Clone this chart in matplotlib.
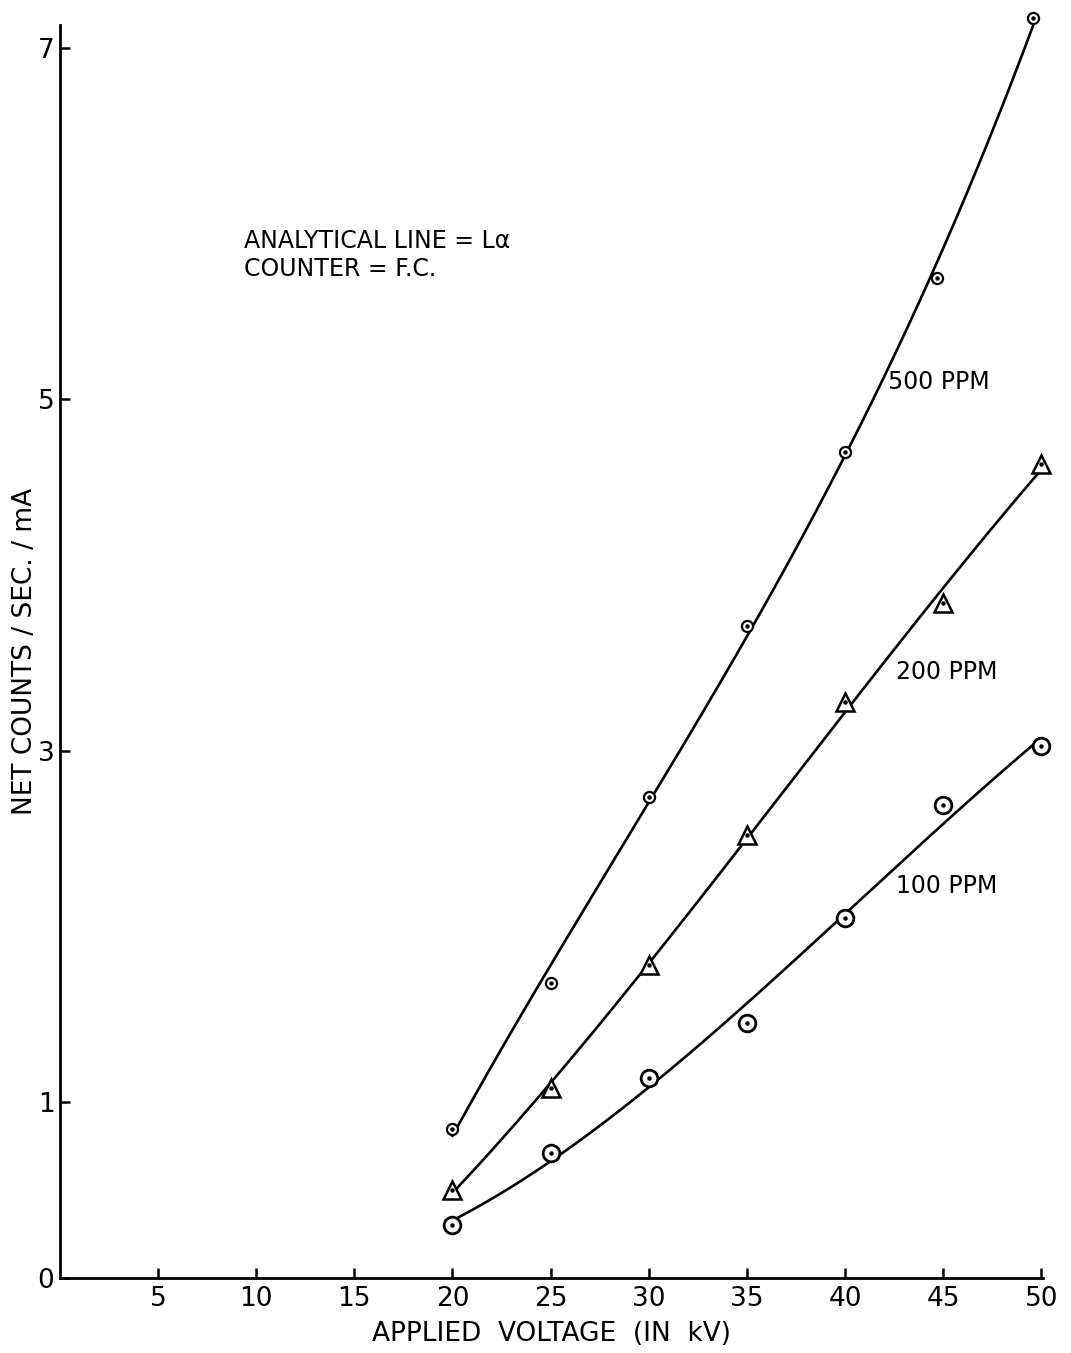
import numpy as np
import matplotlib
matplotlib.use("Agg")
import matplotlib.pyplot as plt
from matplotlib import font_manager

names = {f.name for f in font_manager.fontManager.ttflist}
fam = ['Liberation Sans Narrow'] if 'Liberation Sans Narrow' in names else []
fam += ['DejaVu Sans']
plt.rcParams['font.family'] = fam

# ---- data ----
x_500 = [20, 25, 30, 35, 40, 44.7, 49.6]
y_500 = [0.85, 1.68, 2.74, 3.71, 4.70, 5.69, 7.17]
x_200 = [20, 25, 30, 35, 40, 45, 50]
y_200 = [0.50, 1.08, 1.78, 2.52, 3.28, 3.84, 4.63]
x_100 = [20, 25, 30, 35, 40, 45, 50]
y_100 = [0.30, 0.71, 1.14, 1.45, 2.05, 2.69, 3.03]

x_ticks = [5, 10, 15, 20, 25, 30, 35, 40, 45, 50]
y_ticks = [0, 1, 3, 5, 7]

series_labels = ["500 PPM", "200 PPM", "100 PPM"]
label_pos = [(42.2, 5.10), (42.6, 3.45), (42.6, 2.23)]

fig = plt.figure(figsize=(10.71, 13.53), dpi=100)
ax = fig.add_axes([0.056, 0.0554, 0.918, 0.926])
ax.set_xlim(0, 50.1)
ax.set_ylim(0, 7.13)

def curve(xs, ys, deg=3, x_end=None):
    c = np.polyfit(xs, ys, deg)
    xx = np.linspace(xs[0], x_end if x_end else xs[-1], 200)
    return xx, np.polyval(c, xx)

lw = 1.9
for xs, ys, xe in [(x_500, y_500, 49.6), (x_200, y_200, 49.8), (x_100, y_100, 49.7)]:
    xx, yy = curve(xs, ys, 3, xe)
    ax.plot(xx, yy, color='black', lw=lw, zorder=2, clip_on=False)

# markers
ax.plot(x_500, y_500, linestyle='none', marker='o', ms=8, mfc='white', mec='black', mew=1.6, zorder=3, clip_on=False)
ax.plot(x_200, y_200, linestyle='none', marker='^', ms=13, mfc='white', mec='black', mew=1.8, zorder=3, clip_on=False)
ax.plot(x_100, y_100, linestyle='none', marker='o', ms=12, mfc='white', mec='black', mew=2.0, zorder=3, clip_on=False)
for xs, ys in [(x_500, y_500), (x_200, y_200), (x_100, y_100)]:
    ax.plot(xs, ys, linestyle='none', marker='o', ms=2.2, color='black', zorder=4, clip_on=False)

for lab, (lx, ly) in zip(series_labels, label_pos):
    ax.text(lx, ly, lab, fontsize=17, va='center', ha='left')

ax.text(9.4, 5.90, "ANALYTICAL LINE = L\u03b1", fontsize=17, va='center', ha='left')
ax.text(9.4, 5.74, "COUNTER = F.C.", fontsize=17, va='center', ha='left')

for s in ['top', 'right']:
    ax.spines[s].set_visible(False)
for s in ['left', 'bottom']:
    ax.spines[s].set_linewidth(2.0)

ax.set_xticks(x_ticks)
ax.set_xticklabels([str(v) for v in x_ticks])
ax.set_yticks(y_ticks)
ax.set_yticklabels([str(v) for v in y_ticks])
ax.tick_params(axis='both', direction='in', length=7, width=1.8, labelsize=19)
ax.tick_params(axis='y', pad=4)
ax.tick_params(axis='x', pad=6)

ax.set_xlabel("APPLIED  VOLTAGE  (IN  kV)", fontsize=19, labelpad=6)
ax.set_ylabel("NET COUNTS / SEC. / mA", fontsize=19, labelpad=0)

fig.savefig("out.png", dpi=100)
